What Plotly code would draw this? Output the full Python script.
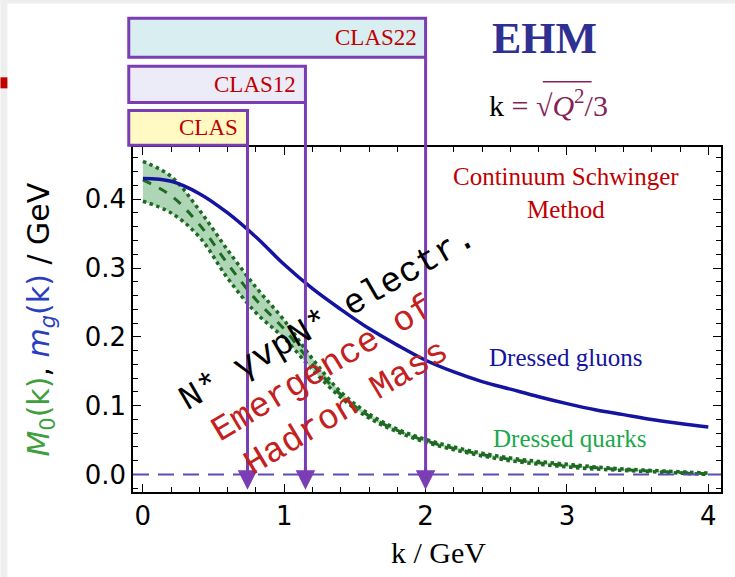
import plotly.graph_objects as go

# Momentum grid (GeV)
k = [0.0, 0.2, 0.4, 0.6, 0.8, 1.0, 1.2, 1.4, 1.6, 1.8, 2.0, 2.2, 2.4, 2.6, 2.8,
     3.0, 3.2, 3.4, 3.6, 3.8, 4.0]

# Dressed-gluon mass function m_g(k) (GeV)
m_gluon = [0.430, 0.426, 0.408, 0.380, 0.345, 0.305, 0.270, 0.240, 0.212, 0.188,
           0.166, 0.149, 0.135, 0.124, 0.113, 0.103, 0.094, 0.087, 0.080, 0.074, 0.069]

# Dressed-quark mass function M_0(k): central curve and band edges (GeV)
m_quark = [0.428, 0.405, 0.363, 0.306, 0.254, 0.211, 0.160, 0.116, 0.085, 0.064,
           0.049, 0.038, 0.029, 0.022, 0.017, 0.013, 0.010, 0.007, 0.005, 0.003, 0.001]
m_quark_hi = [0.455, 0.433, 0.384, 0.326, 0.272, 0.224, 0.168, 0.120, 0.088, 0.066,
              0.051, 0.040, 0.031, 0.024, 0.019, 0.015, 0.011, 0.008, 0.006, 0.004, 0.002]
m_quark_lo = [0.397, 0.380, 0.345, 0.285, 0.235, 0.198, 0.152, 0.112, 0.082, 0.062,
              0.047, 0.036, 0.027, 0.020, 0.015, 0.011, 0.008, 0.006, 0.004, 0.002, 0.000]

# Experimental reach in k = sqrt(Q^2)/3
experiments = ["CLAS", "CLAS12", "CLAS22"]
k_reach = [0.74, 1.15, 2.0]
box_fill = ["#fffac4", "#ecebf8", "#d8eef0"]

x_ticks = [0, 1, 2, 3, 4]
y_ticks = [0.0, 0.1, 0.2, 0.3, 0.4]

XR = [-0.07, 4.09]
YR = [-0.0254, 0.4758]
PURPLE = "#7b3db3"
SERIF = "Liberation Serif"
MONO = "Liberation Mono"


def px(kv):
    """x position of a momentum value in paper units."""
    return (kv - XR[0]) / (XR[1] - XR[0])


def label(x, y, text, font, xref="paper", yref="paper", **kw):
    d = dict(x=x, y=y, xref=xref, yref=yref, text=text, font=font, showarrow=False,
             xanchor="center", yanchor="middle")
    d.update(kw)
    return d


fig = go.Figure()

# quark band
fig.add_trace(go.Scatter(x=k, y=m_quark_lo, mode="lines", line=dict(width=0, shape="spline"),
                         showlegend=False, hoverinfo="skip"))
fig.add_trace(go.Scatter(x=k, y=m_quark_hi, mode="lines", fill="tonexty",
                         fillcolor="rgba(120,185,132,0.6)",
                         line=dict(width=0, shape="spline"), showlegend=False))
for edge in (m_quark_hi, m_quark_lo):
    fig.add_trace(go.Scatter(x=k, y=edge, mode="lines",
                             line=dict(color="#1d6b22", width=3.5, dash="dot", shape="spline"),
                             showlegend=False))
fig.add_trace(go.Scatter(x=k, y=m_quark, mode="lines",
                         line=dict(color="#1d6b22", width=3, dash="dash", shape="spline"),
                         showlegend=False))

# gluon curve
fig.add_trace(go.Scatter(x=k, y=m_gluon, mode="lines",
                         line=dict(color="#1414a0", width=3.5, shape="spline"),
                         showlegend=False))

shapes = []
annotations = []

# zero reference line
shapes.append(dict(type="line", xref="paper", yref="y", x0=0, x1=1, y0=0, y1=0,
                   line=dict(color="#5b4db5", width=2, dash="16px,9px")))

# experiment boxes and their reach arrows
box_rows = [(1.005, 1.106), (1.129, 1.234), (1.260, 1.373)]
for name, kr, fillc, (yb, yt) in zip(experiments, k_reach, box_fill, box_rows):
    shapes.append(dict(type="rect", xref="paper", yref="paper",
                       x0=px(-0.1), x1=px(kr), y0=yb, y1=yt,
                       fillcolor=fillc, line=dict(color=PURPLE, width=3), layer="above"))
    shapes.append(dict(type="line", xref="x", yref="paper", x0=kr, x1=kr, y0=yb, y1=0.05,
                       line=dict(color=PURPLE, width=3), layer="above"))
    annotations.append(dict(x=kr, y=-0.022, xref="x", yref="y", ax=0, ay=-24,
                            showarrow=True, arrowhead=2, arrowsize=1.3, arrowwidth=3,
                            arrowcolor=PURPLE, text=""))
    annotations.append(label(px(kr), (yb + yt) / 2, name,
                             dict(family=SERIF, size=23, color="#c00000"),
                             xanchor="right", xshift=-7))

# text labels
annotations += [
    label(0.700, 1.315, "<b>EHM</b>", dict(family=SERIF, size=44, color="#2e3192")),
    label(0.707, 1.127, "k <span style='color:#861f55'>= √<i>Q</i><sup>2</sup>/3</span>",
          dict(family=SERIF, size=30, color="black")),
    label(2.99, 0.4086, "Continuum Schwinger<br>Method",
          dict(family=SERIF, size=25, color="#c00000"), xref="x", yref="y"),
    label(2.99, 0.1705, "Dressed gluons",
          dict(family=SERIF, size=25, color="#1414a0"), xref="x", yref="y"),
    label(3.02, 0.053, "Dressed quarks",
          dict(family=SERIF, size=25, color="#1aa84a"), xref="x", yref="y"),
    label(1.31, 0.2257, "N* γvpN* electr.",
          dict(family=MONO, size=35, color="black"), xref="x", yref="y", textangle=-30),
    label(1.36, 0.124, "Emergence of<br>Hadron Mass",
          dict(family=MONO, size=35, color="#c42020"), xref="x", yref="y", textangle=-31),
    label(-0.158, 0.5,
          "<span style='color:#3f9f3f'><i>M</i><sub>0</sub>(k)</span>, "
          "<span style='color:#2a3fbf'><i>m<sub>g</sub></i>(k)</span> / GeV",
          dict(family="DejaVu Sans", size=30, color="black"), textangle=-90),
    label(0.52, -0.174, "k / GeV", dict(family=SERIF, size=30, color="black")),
]

# vinculum of the square root
shapes.append(dict(type="line", xref="paper", yref="paper", x0=0.697, x1=0.780,
                   y0=1.189, y1=1.189, line=dict(color="#861f55", width=1.5)))
# slide edge decorations
shapes.append(dict(type="rect", xref="paper", yref="paper", x0=-0.2254, x1=-0.2136,
                   y0=-0.25, y1=1.43, fillcolor="#eeeeee", line=dict(width=0), layer="below"))
shapes.append(dict(type="rect", xref="paper", yref="paper", x0=-0.2254, x1=1.03,
                   y0=1.416, y1=1.43, fillcolor="#eeeeee", line=dict(width=0), layer="below"))
shapes.append(dict(type="rect", xref="paper", yref="paper", x0=-0.2254, x1=-0.2136,
                   y0=1.170, y1=1.202, fillcolor="#c00000", line=dict(width=0)))

axis_common = dict(showline=True, linecolor="black", linewidth=1.5, mirror="ticks",
                   ticks="inside", ticklen=8, tickwidth=1.2, tickcolor="black",
                   showgrid=False, zeroline=False,
                   tickfont=dict(family="DejaVu Sans", size=26, color="black"))

fig.update_layout(
    width=735, height=577,
    margin=dict(l=133, r=12, t=147, b=85),
    paper_bgcolor="white", plot_bgcolor="white",
    shapes=shapes, annotations=annotations,
    xaxis=dict(range=XR, tickvals=x_ticks, ticktext=[str(t) for t in x_ticks],
               minor=dict(dtick=0.2, tick0=0, ticklen=5, ticks="inside", tickcolor="black"),
               **axis_common),
    yaxis=dict(range=YR, tickvals=y_ticks, tickformat=".1f",
               minor=dict(dtick=0.02, tick0=0, ticklen=5, ticks="inside", tickcolor="black"),
               **axis_common),
)

fig.write_html("out.html")
